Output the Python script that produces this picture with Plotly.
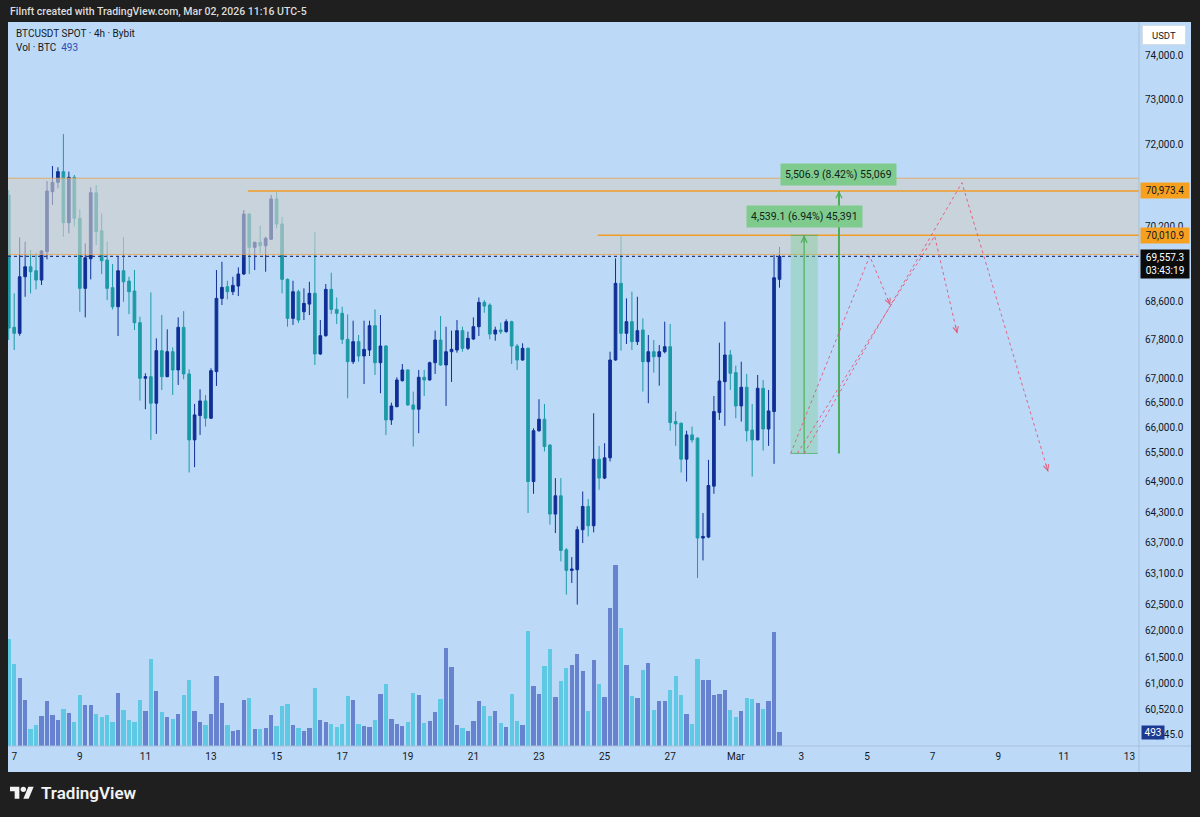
import math
import pandas as pd
import plotly.graph_objects as go

# ---------------- data ----------------
times = pd.date_range("2026-02-06 20:00", periods=142, freq="4h")

opens = [70880, 68059, 67934, 69125, 69338, 69253, 69055, 69660, 70956, 71160,
         71394, 70283, 71270, 70379, 68879, 69510, 70934, 70110, 69481, 68893,
         68491, 69253, 69034, 68822, 68156, 67002, 67035, 66490, 67572, 67035,
         67551, 67173, 68059, 67091, 65745, 66238, 66537, 66184, 67139, 68667,
         68914, 68808, 68928, 69183, 70470, 69753, 69860, 69787, 69925, 70797,
         70254, 69070, 68247, 68808, 68385, 68547, 68774, 67504, 67884, 68858,
         68435, 68352, 67808, 67344, 67760, 67462, 67586, 68093, 67323, 67669,
         66150, 66420, 66953, 67173, 66455, 66368, 67022, 66967, 67323, 67794,
         67276, 67551, 67586, 67990, 67621, 67815, 68072, 68583, 68526, 67919,
         68003, 67969, 68177, 67669, 67379, 67621, 64909, 65930, 66164, 65640,
         64263, 64625, 63560, 63160, 63173, 63954, 64414, 64033, 65357, 64977,
         65383, 67379, 68985, 67934, 68177, 67760, 68003, 67344, 67551, 67448,
         67551, 67655, 66116, 66083, 65357, 65846, 65780, 63791, 63810, 64817,
         66299, 66932, 67483, 67118, 66434, 66817, 65944, 65745, 66796, 65965,
         66320, 69070]
highs = [70993, 68774, 69968, 69873, 69695, 69637, 69695, 71189, 71519, 71490,
         72224, 71394, 71321, 70572, 69839, 71052, 71102, 70485, 69873, 69396,
         69567, 69968, 69125, 69268, 68281, 67105, 68794, 67829, 68317, 68017,
         67642, 68268, 68399, 67187, 66475, 66776, 66659, 67208, 69268, 69445,
         69040, 69125, 69325, 70557, 70485, 69873, 70220, 69981, 70884, 70956,
         70400, 69090, 69040, 68850, 68879, 69019, 70089, 68212, 68970, 69211,
         68687, 68491, 68330, 68198, 67898, 68198, 68198, 68435, 68317, 67690,
         66502, 67022, 67297, 67187, 66728, 67173, 67173, 67344, 67990, 68296,
         68072, 67990, 68212, 68072, 67969, 68268, 68687, 68631, 68562, 68072,
         68156, 68226, 68198, 67711, 67725, 67640, 65980, 66571, 66475, 65660,
         64977, 64977, 63596, 63420, 64020, 64711, 64560, 66286, 65624, 65678,
         67551, 69516, 70010.9, 68667, 68808, 68701, 68247, 67898, 67794, 67690,
         68177, 68128, 66320, 66096, 65930, 66015, 65800, 64283, 65343, 66639,
         67738, 68177, 67586, 67262, 67344, 67091, 66475, 67070, 66967, 66762,
         69588, 69760]
lows = [67794, 67586, 67884, 68701, 68774, 68858, 68949, 69496, 70666, 71030,
        69981, 70054, 70200, 68385, 68268, 69070, 69803, 69183, 68631, 68435,
        67878, 68595, 68337, 68003, 66543, 66368, 65745, 65866, 66762, 67022,
        66659, 66864, 66981, 65089, 65196, 65846, 66015, 66170, 66844, 68526,
        68646, 68737, 68716, 69161, 69183, 69268, 69624, 69232, 69910, 70162,
        68774, 68072, 68108, 68150, 68212, 68317, 67276, 67483, 67863, 68337,
        68128, 67711, 66592, 67297, 67344, 66885, 67462, 67070, 66694, 65846,
        66049, 66406, 66933, 66434, 65610, 65880, 66639, 66953, 67091, 67260,
        66434, 66926, 67530, 67551, 67586, 67794, 67878, 68365, 67808, 67780,
        67919, 67948, 67297, 67173, 67365, 64283, 64665, 65910, 65510, 64053,
        63889, 63335, 62692, 62917, 62500, 63693, 63823, 63902, 64744, 64957,
        65310, 67365, 67572, 67711, 67586, 67690, 66728, 66490, 67118, 66850,
        67517, 65930, 65624, 65089, 64909, 65690, 63014, 63354, 63790, 64665,
        66150, 66029, 66762, 66184, 66116, 65711, 65009, 65738, 65530, 65624,
        65263, 68893]
closes = [68045, 67934, 69125, 69338, 69232, 69055, 69674, 70971, 71160, 71394,
          70283, 71270, 70379, 68879, 69530, 70934, 70089, 69466, 68879, 68491,
          69253, 69019, 68808, 68156, 67002, 67035, 66490, 67572, 67035, 67551,
          67173, 68059, 67091, 65745, 66252, 66537, 66184, 67159, 68667, 68900,
          68808, 68942, 69183, 70470, 69753, 69860, 69787, 69947, 70797, 70254,
          69070, 68247, 68808, 68212, 68562, 68774, 67504, 67884, 68858, 68435,
          68352, 67808, 67344, 67760, 67462, 67600, 68093, 67323, 67669, 66150,
          66434, 66967, 67173, 66455, 66368, 67022, 66967, 67323, 67794, 67276,
          67551, 67600, 67990, 67621, 67829, 68072, 68583, 68505, 67919, 68003,
          67969, 68177, 67669, 67379, 67621, 64909, 65930, 66164, 65610, 64263,
          64625, 63550, 63160, 63187, 63954, 64414, 64033, 65357, 64977, 65383,
          67379, 68985, 67934, 68177, 67760, 67990, 67344, 67551, 67448, 67551,
          67655, 66096, 66069, 65357, 65846, 65745, 63791, 63823, 64830, 66320,
          66946, 67483, 67105, 66434, 66817, 65930, 65745, 66796, 65965, 66333,
          69104, 69557.3]
volumes = [3864, 2964, 2460, 1668, 600, 756, 1080, 1632, 1104, 924,
           1344, 1188, 876, 1836, 1488, 1488, 1140, 1044, 1104, 876,
           1920, 1284, 924, 852, 1656, 1248, 3120, 1980, 1212, 1044,
           960, 1164, 1836, 2388, 1248, 864, 768, 1140, 2508, 1548,
           768, 528, 588, 1668, 1716, 600, 624, 636, 1104, 708,
           1428, 1500, 756, 660, 528, 636, 2076, 924, 852, 804,
           684, 780, 1788, 1668, 804, 732, 672, 924, 1872, 2220,
           984, 780,
           708, 876, 1920, 1836, 840, 912, 1212, 1680, 3528, 2832,
           756, 660, 528, 900, 1632, 1428, 1068, 1248, 840, 684,
           1884, 888, 756, 4128, 2172, 1884, 2868, 3492, 1752, 2328,
           2820, 2928, 3312, 2712, 1260, 3084, 2244, 1776, 4980, 6504,
           4248, 2904, 1800, 1716, 2736, 3000, 1284, 1632, 1632, 2028,
           2532, 1848, 1164, 780, 3144, 2388, 2388, 1836, 1884, 2004,
           1296, 1044, 1248, 1716, 1680, 1536, 1344, 1632, 4116, 493]

price_ticks = [74000, 73000, 72000, 70200, 68600, 67800, 67000, 66500, 66000, 65500,
               64900, 64300, 63700, 63100, 62500, 62000, 61500, 61000, 60520, 60045]
date_ticks = ["2026-02-07", "2026-02-09", "2026-02-11", "2026-02-13", "2026-02-15",
              "2026-02-17", "2026-02-19", "2026-02-21", "2026-02-23", "2026-02-25",
              "2026-02-27", "2026-03-01", "2026-03-03", "2026-03-05", "2026-03-07",
              "2026-03-09", "2026-03-11", "2026-03-13"]
date_labels = ["7", "9", "11", "13", "15", "17", "19", "21", "23", "25", "27",
               "Mar", "3", "5", "7", "9", "11", "13"]

last_price = 69557.3
zone_low, zone_high = 69600, 71250
level_hi, level_hi_start = 70973.4, "2026-02-14 03:00"
level_lo, level_lo_start = 70010.9, "2026-02-24 19:00"

measure_base = 65471.8
measure1 = dict(x0="2026-03-02 16:10", x1="2026-03-03 12:00", xm="2026-03-03 02:00",
                top=70010.9, text="4,539.1 (6.94%) 45,391")
measure2 = dict(xm="2026-03-04 03:30", top=70973.4, text="5,506.9 (8.42%) 55,069")

red_paths = [
    (["2026-03-02 16:10", "2026-03-05 02:00", "2026-03-05 17:00"], [measure_base, 69567, 68526]),
    (["2026-03-02 21:00", "2026-03-07 01:30", "2026-03-07 18:00"], [measure_base, 69995, 67934]),
    (["2026-03-03 02:00", "2026-03-07 21:30", "2026-03-10 12:30"], [measure_base, 71151, 65109]),
]

# ---------------- layout constants ----------------
W, H = 1200, 817
PL, PR, PT, PB = 8, 1139, 22, 746
X_START = pd.Timestamp("2026-02-06 19:28")
X_END = pd.Timestamp("2026-03-13 07:02")
Y_BOT, Y_TOP = 59842, 74754.4
VOL_MAX = 26064

BG = "#bcdaf8"
DARK = "#1f1f1f"
UP, DOWN = "#0f2f96", "#1c9aa6"
VOL_UP, VOL_DOWN = "#6782cf", "#5fc8e2"
ORANGE = "#f29b26"
RED = "rgba(232,78,110,0.85)"
GREEN = "#4cae5a"
FONT = "Roboto"
TXT = "#131722"


def pxx(px):
    return (px - PL) / (PR - PL)


def pyy(py):
    return (PB - py) / (PB - PT)


def x_pix(t):
    t = pd.Timestamp(t)
    return PL + (t - X_START) / (X_END - X_START) * (PR - PL)


def y_pix(p):
    return PT + (math.log10(Y_TOP) - math.log10(p)) / (math.log10(Y_TOP) - math.log10(Y_BOT)) * (PB - PT)


fig = go.Figure()

# resistance zone
fig.add_trace(go.Scatter(x=[X_START, X_END, X_END, X_START, X_START],
                         y=[zone_low, zone_low, zone_high, zone_high, zone_low],
                         fill="toself", fillcolor="rgba(208,206,204,0.62)",
                         line=dict(width=0), mode="lines", hoverinfo="skip"))
for lvl in (zone_low, zone_high):
    fig.add_trace(go.Scatter(x=[X_START, X_END], y=[lvl, lvl], mode="lines",
                             line=dict(color="rgba(236,160,70,0.75)", width=1), hoverinfo="skip"))
fig.add_trace(go.Scatter(x=[level_hi_start, X_END], y=[level_hi, level_hi], mode="lines",
                         line=dict(color=ORANGE, width=1.5), hoverinfo="skip"))
fig.add_trace(go.Scatter(x=[level_lo_start, X_END], y=[level_lo, level_lo], mode="lines",
                         line=dict(color=ORANGE, width=1.5), hoverinfo="skip"))

# volume
vol_colors = [VOL_UP if c >= o else VOL_DOWN for o, c in zip(opens, closes)]
fig.add_trace(go.Bar(x=times, y=volumes, marker=dict(color=vol_colors, line=dict(width=0)),
                     width=4 * 3600 * 1000 * 0.78, yaxis="y2", hoverinfo="skip"))

# candles
fig.add_trace(go.Candlestick(x=times, open=opens, high=highs, low=lows, close=closes,
                             increasing=dict(line=dict(color=UP, width=1), fillcolor=UP),
                             decreasing=dict(line=dict(color=DOWN, width=1), fillcolor=DOWN),
                             whiskerwidth=0, hoverinfo="skip"))

# last price dotted line
fig.add_trace(go.Scatter(x=[X_START, X_END], y=[last_price, last_price], mode="lines",
                         line=dict(color="#2a3a78", width=1.2, dash="dot"), hoverinfo="skip"))

# measurement 1 box
m1 = measure1
fig.add_trace(go.Scatter(x=[m1["x0"], m1["x1"], m1["x1"], m1["x0"], m1["x0"]],
                         y=[measure_base, measure_base, m1["top"], m1["top"], measure_base],
                         fill="toself", fillcolor="rgba(120,205,140,0.38)",
                         line=dict(width=0), mode="lines", hoverinfo="skip"))
for yv in (measure_base, m1["top"]):
    fig.add_trace(go.Scatter(x=[m1["x0"], m1["x1"]], y=[yv, yv], mode="lines",
                             line=dict(color="rgba(80,170,100,0.8)", width=1), hoverinfo="skip"))
fig.add_trace(go.Scatter(x=[m1["xm"], m1["xm"]], y=[measure_base, m1["top"]], mode="lines",
                         line=dict(color=GREEN, width=1.2), hoverinfo="skip"))
# measurement 2
m2 = measure2
fig.add_trace(go.Scatter(x=[m2["xm"], m2["xm"]], y=[measure_base, m2["top"]], mode="lines",
                         line=dict(color=GREEN, width=2), hoverinfo="skip"))

# red dotted paths
for xs, ys in red_paths:
    fig.add_trace(go.Scatter(x=xs, y=ys, mode="lines",
                             line=dict(color=RED, width=1, dash="dot"), hoverinfo="skip"))

annotations = []
shapes = []


def arrowhead(x_prev, y_prev, x_end, y_end, color, size=1.0, length=9):
    dx = x_pix(x_prev) - x_pix(x_end)
    dy = y_pix(y_prev) - y_pix(y_end)
    n = math.hypot(dx, dy)
    annotations.append(dict(x=x_end, y=math.log10(y_end), xref="x", yref="y",
                            ax=dx / n * length, ay=dy / n * length, axref="pixel", ayref="pixel",
                            showarrow=True, arrowhead=5, arrowsize=size, arrowwidth=1,
                            arrowcolor=color, text=""))


for xs, ys in red_paths:
    arrowhead(xs[-2], ys[-2], xs[-1], ys[-1], RED, size=1.1)
arrowhead(m1["xm"], measure_base, m1["xm"], m1["top"], GREEN, size=1.2)
arrowhead(m2["xm"], measure_base, m2["xm"], m2["top"], GREEN, size=1.2)

# measurement labels
for m, ys in ((m1, 7), (m2, 5)):
    annotations.append(dict(x=m["xm"], y=math.log10(m["top"]), xref="x", yref="y",
                            yanchor="bottom", yshift=ys, showarrow=False, text=m["text"],
                            bgcolor="#7fcb8d", borderpad=4,
                            font=dict(family=FONT, size=10.5, color="#10241a")))

# right axis price labels
for val in (level_hi, level_lo):
    annotations.append(dict(x=1, xref="paper", xanchor="left", xshift=1,
                            y=math.log10(val), yref="y", yanchor="middle", showarrow=False,
                            text=f"{val:,.1f}", bgcolor="#f7a020", width=44, borderpad=2,
                            font=dict(family=FONT, size=10, color=TXT)))
annotations.append(dict(x=1, xref="paper", xanchor="left", xshift=1,
                        y=math.log10(last_price), yref="y", yanchor="top", yshift=7,
                        showarrow=False, text=f"{last_price:,.1f}<br>03:43:19",
                        bgcolor="#0b0b0b", width=44, borderpad=2,
                        font=dict(family=FONT, size=10, color="#ffffff")))
annotations.append(dict(x=1, xref="paper", xanchor="left", xshift=2,
                        y=volumes[-1], yref="y2", yanchor="middle", showarrow=False,
                        text=str(volumes[-1]), bgcolor="#1d3a93", width=20, borderpad=1,
                        font=dict(family=FONT, size=10, color="#ffffff")))
annotations.append(dict(x=pxx(1164), xref="paper", xanchor="center", y=pyy(35), yref="paper",
                        yanchor="middle", showarrow=False,
                        text="USDT", bgcolor="#ffffff", bordercolor="#d6dde6", borderwidth=1,
                        width=40, height=16, font=dict(family=FONT, size=9.5, color=TXT)))

# header + legend texts
annotations.append(dict(x=0, xref="paper", xanchor="left", y=pyy(11), yref="paper",
                        yanchor="middle", showarrow=False,
                        text="Filnft created with TradingView.com, Mar 02, 2026 11:16 UTC-5",
                        font=dict(family=FONT, size=10.5, color="#dcdcdc", weight=500)))
annotations.append(dict(x=pxx(14), xref="paper", xanchor="left", y=pyy(34), yref="paper",
                        yanchor="middle", showarrow=False, text="BTCUSDT SPOT · 4h · Bybit",
                        font=dict(family=FONT, size=10, color=TXT)))
annotations.append(dict(x=pxx(14), xref="paper", xanchor="left", y=pyy(47), yref="paper",
                        yanchor="middle", showarrow=False,
                        text="Vol · BTC  <span style='color:#2f4bb5'>493</span>",
                        font=dict(family=FONT, size=10, color=TXT)))
annotations.append(dict(x=pxx(39), xref="paper", xanchor="left", y=pyy(793), yref="paper",
                        yanchor="middle", showarrow=False, text="TradingView",
                        font=dict(family=FONT, size=17, color="#f2f2f2", weight=600)))

# panel background and separators
shapes.append(dict(type="rect", xref="paper", yref="paper", x0=pxx(8), x1=pxx(1191),
                   y0=pyy(772), y1=pyy(22), fillcolor=BG, line=dict(width=0), layer="below"))
shapes.append(dict(type="line", xref="paper", yref="paper", x0=1, x1=1, y0=pyy(772), y1=1,
                   line=dict(color="#a5bfd9", width=1)))
shapes.append(dict(type="line", xref="paper", yref="paper", x0=0, x1=pxx(1191), y0=0, y1=0,
                   line=dict(color="#a5bfd9", width=1)))

# TradingView logo
s, ox, oy = 0.667, 10, 784.0


def P(X, Y):
    return f"{pxx(ox + s * X):.5f},{pyy(oy + s * Y):.5f}"


shapes.append(dict(type="path", xref="paper", yref="paper",
                   path=f"M{P(0,4)} L{P(14,4)} L{P(14,22)} L{P(7,22)} L{P(7,11)} L{P(0,11)} Z",
                   fillcolor="#f2f2f2", line=dict(width=0)))
shapes.append(dict(type="path", xref="paper", yref="paper",
                   path=f"M{P(20,22)} L{P(27.5,4)} L{P(35.5,4)} L{P(28,22)} Z",
                   fillcolor="#f2f2f2", line=dict(width=0)))
shapes.append(dict(type="circle", xref="paper", yref="paper",
                   x0=pxx(ox + s * 16), x1=pxx(ox + s * 24), y0=pyy(oy + s * 12), y1=pyy(oy + s * 4),
                   fillcolor="#f2f2f2", line=dict(width=0)))

fig.update_layout(
    width=W, height=H,
    margin=dict(l=PL, r=W - PR, t=PT, b=H - PB),
    paper_bgcolor=DARK, plot_bgcolor=BG,
    showlegend=False,
    xaxis=dict(type="date", range=[X_START, X_END], rangeslider=dict(visible=False),
               tickvals=date_ticks, ticktext=date_labels, showgrid=False, zeroline=False,
               ticks="", ticklabelstandoff=3,
               tickfont=dict(family=FONT, size=10, color=TXT), showline=False,
               fixedrange=True),
    yaxis=dict(type="log", side="right", range=[math.log10(Y_BOT), math.log10(Y_TOP)],
               tickvals=price_ticks, ticktext=[f"{v:,.1f}" for v in price_ticks],
               showgrid=False, zeroline=False, ticks="", ticklabelstandoff=5,
               tickfont=dict(family=FONT, size=10, color=TXT), showline=False),
    yaxis2=dict(overlaying="y", range=[0, VOL_MAX], visible=False),
    annotations=annotations,
    shapes=shapes,
    bargap=0,
)

fig.write_html("out.html", config={"displayModeBar": False},
               post_script="document.body.style.margin='0';document.body.style.background='#1f1f1f';")
